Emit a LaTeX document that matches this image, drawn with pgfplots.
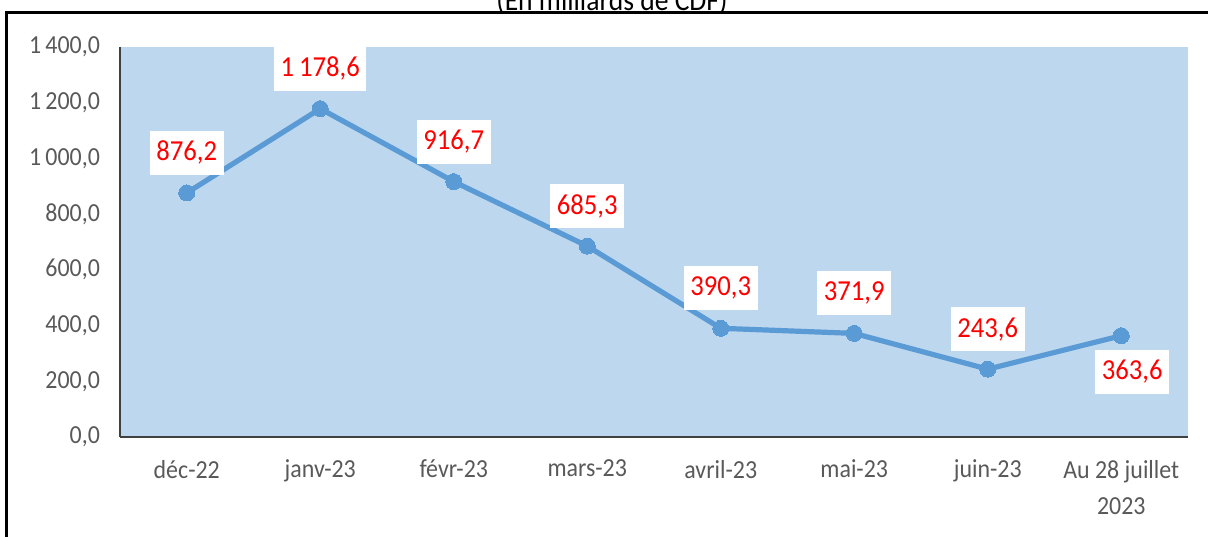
\documentclass[border=0pt]{standalone}
\usepackage{fontspec}
\setmainfont{Carlito}[FakeStretch=0.92]
\usepackage{pgfplots}
\pgfplotsset{compat=1.18}
\definecolor{bgblue}{HTML}{BDD7EE}
\definecolor{lineblue}{HTML}{5B9BD5}
\definecolor{ticktext}{HTML}{595959}
\definecolor{axisgray}{HTML}{404040}
\begin{document}
\begin{tikzpicture}
\begin{axis}[
  at={(0,0)}, anchor=south west,
  scale only axis, width=534pt, height=195pt,
  xmin=-0.5, xmax=7.5, ymin=0, ymax=1400,
  axis x line*=bottom, axis y line*=left,
  axis line style={axisgray, line width=0.8pt},
  axis background/.style={fill=bgblue},
  major tick length=0pt,
  xtick={0,1,2,3,4,5,6,7},
  xticklabels={d\'ec-22,janv-23,f\'evr-23,mars-23,avril-23,mai-23,juin-23,{Au 28 juillet\\2023}},
  xticklabel style={font={\fontsize{13}{18}\selectfont}, text=ticktext, align=center, yshift=-8pt},
  ytick={0,200,400,600,800,1000,1200,1400},
  yticklabels={{0,0},{200,0},{400,0},{600,0},{800,0},{1\,000,0},{1\,200,0},{1\,400,0}},
  yticklabel style={font={\fontsize{13}{15}\selectfont}, text=ticktext, xshift=-6.5pt},
  clip=false,
]
\addplot[lineblue, line width=2.6pt, mark=*, mark size=4pt, mark options={fill=lineblue, draw=lineblue, line width=0pt}]
  coordinates {(0,876.2) (1,1178.6) (2,916.7) (3,685.3) (4,390.3) (5,371.9) (6,243.6) (7,363.6)};
\addplot[draw=none, mark=none,
  nodes near coords, point meta=explicit symbolic,
  every node near coord/.style={anchor=center, yshift=20pt, fill=white, text=red,
    font={\fontsize{14.5}{17}\selectfont}, minimum height=22pt, inner xsep=3.3pt}]
  coordinates {(0,876.2) [876,2] (1,1178.6) [1\,178,6] (2,916.7) [916,7] (3,685.3) [685,3]
               (4,390.3) [390,3] (5,371.9) [371,9] (6,243.6) [243,6]};
\addplot[draw=none, mark=none,
  nodes near coords, point meta=explicit symbolic,
  every node near coord/.style={anchor=center, yshift=-18pt, xshift=5.5pt, fill=white, text=red,
    font={\fontsize{14.5}{17}\selectfont}, minimum height=22pt, inner xsep=3.3pt}]
  coordinates {(7,363.6) [363,6]};
\end{axis}
\node[anchor=base, font={\fontsize{15}{18}\selectfont}] at (246pt,213.3pt) {(En milliards de CDF)};
\draw[black, line width=1.5pt] (-56.5pt,-55pt) -- (-56.5pt,212pt) -- (550pt,212pt);
\pgfresetboundingbox
\useasboundingbox (-60pt,-49.5pt) rectangle (544pt,218.5pt);
\end{tikzpicture}
\end{document}
